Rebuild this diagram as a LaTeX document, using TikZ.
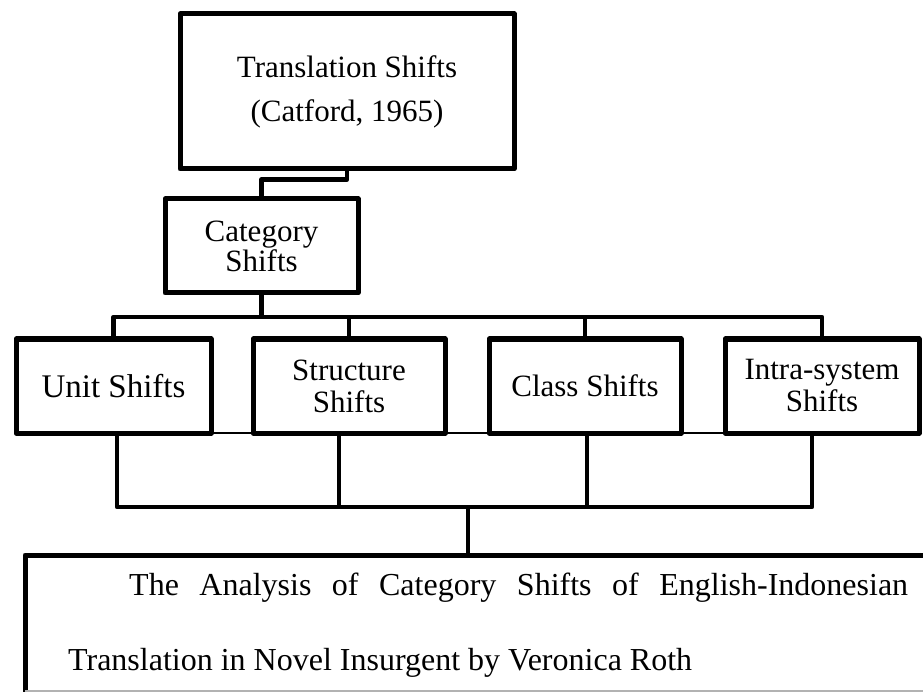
\documentclass[tikz,border=0pt]{standalone}
\usepackage{fontspec}
\setmainfont{Liberation Serif}
\begin{document}
\begin{tikzpicture}[x=1pt,y=-1pt,
  box/.style={draw=black, line width=5pt, line join=round, fill=white,
    rectangle, inner sep=0pt, align=center, font=\fontsize{31}{32}\selectfont},
  conn/.style={draw=black, line width=4.5pt, line join=round},
  thinline/.style={draw=black, line width=2.5pt},
  txt/.style={inner sep=0pt, anchor=base west, font=\fontsize{32}{34}\selectfont}]
\useasboundingbox (0,0) rectangle (923,692);
\clip (0,0) rectangle (923,692);
% boxes
\node[box, minimum width=334pt, minimum height=155pt, font=\fontsize{31}{44}\selectfont]
  (top) at (347,91.5) {\raisebox{-3pt}{Translation Shifts}\\\raisebox{-3pt}{(Catford, 1965)}};
\node[box, minimum width=193pt, minimum height=94pt, font=\fontsize{31}{30}\selectfont]
  (cat) at (261.5,246) {Category\\Shifts};
\draw[thinline] (16,433) -- (919,433);
\node[box, minimum width=195pt, minimum height=94pt, font=\fontsize{33}{34}\selectfont] (unit) at (113.5,386) {Unit Shifts};
\node[box, minimum width=192pt, minimum height=94pt] (struct) at (349,386) {Structure\\Shifts};
\node[box, minimum width=192pt, minimum height=94pt] (class) at (585,386) {Class Shifts};
\node[box, minimum width=194pt, minimum height=94pt] (intra) at (822,386) {Intra-system\\Shifts};
\node[box, minimum width=910pt, minimum height=160pt] (bottom) at (480,635) {};
\draw[draw=gray!60, line width=1.5pt] (25,691) -- (923,691);
% text in bottom box
\node[txt] (l1) at (129,595) {\makebox[779pt][s]{The Analysis of Category Shifts of English-Indonesian}};
\node[txt] (l2) at (68,670) {Translation in Novel Insurgent by Veronica Roth};
% upper connectors
\draw[conn] (top.south) -- ++(0,8) -| (cat.north);
\coordinate (bar) at (261.5,317);
\draw[conn] (cat.south) -- (bar);
\draw[conn] (unit.north) |- (bar) -| (intra.north);
\draw[conn] (struct.north) -- (struct.north |- bar);
\draw[conn] (class.north) -- (class.north |- bar);
% lower connectors
\coordinate (d1) at (117,507);
\coordinate (d2) at (339,507);
\coordinate (d3) at (587,507);
\coordinate (d4) at (812,507);
\coordinate (lb) at (468,507);
\draw[conn] (d1 |- unit.south) -- (d1) -- (d4) -- (d4 |- intra.south);
\draw[conn] (d2 |- struct.south) -- (d2);
\draw[conn] (d3 |- class.south) -- (d3);
\draw[conn] (lb) -- (lb |- bottom.north);
\end{tikzpicture}
\end{document}
